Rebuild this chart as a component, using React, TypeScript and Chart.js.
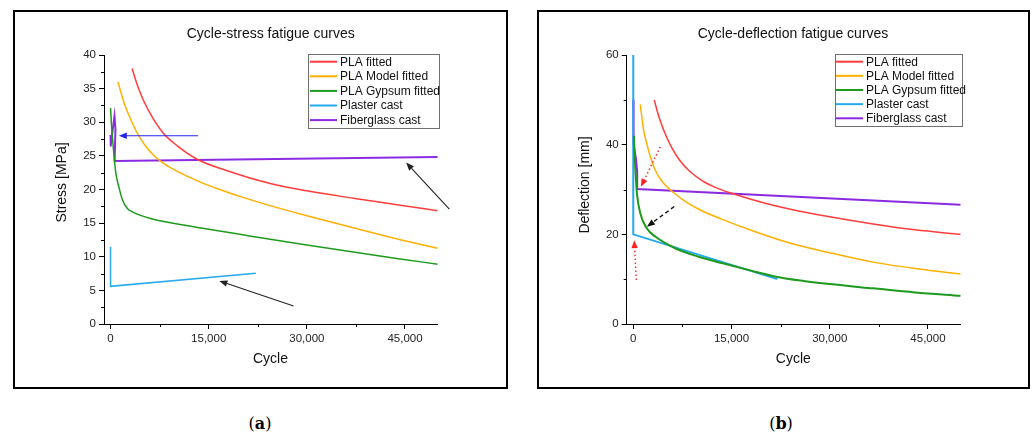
import React, { useEffect, useRef } from "react";
import { Chart, registerables } from "chart.js";

Chart.register(...registerables);

const FONT = "'Liberation Sans', Arial, sans-serif";

// ---------- shared ----------
const seriesNames = ["PLA fitted", "PLA Model fitted", "PLA Gypsum fitted", "Plaster cast", "Fiberglass cast"];
const seriesColors = ["#FF3D3D", "#FFB000", "#1E9A1E", "#25AAF0", "#8A2BE2"];

const cycleTicks = [0, 15000, 30000, 45000];
const cycleMinorTicks = [7500, 22500, 37500];

// ---------- (a) cycle-stress ----------
const stressTicks = [0, 5, 10, 15, 20, 25, 30, 35, 40];
const stressMinorTicks = [2.5, 7.5, 12.5, 17.5, 22.5, 27.5, 32.5, 37.5];

const stressPLA = [
  [3300, 38], [4000, 35.8], [5000, 33.3], [6600, 30.4], [8140, 28.3], [10200, 26.5], [13230, 24.5],
  [17800, 22.8], [24400, 20.9], [30000, 19.8], [37100, 18.7], [44000, 17.7], [50000, 16.85],
];
const stressPLAModel = [
  [1120, 36], [2100, 32.8], [3000, 30.6], [4300, 28], [5800, 25.9], [7530, 24.3], [10000, 22.8],
  [13730, 21.1], [17000, 19.9], [20000, 18.9], [24400, 17.6], [30000, 16.1], [37100, 14.3],
  [44000, 12.6], [50000, 11.25],
];
const stressPLAGypsum = [
  [0, 32.1], [150, 29.5], [350, 27], [500, 25.4], [800, 22.5], [1270, 20.4], [1800, 18.5],
  [2540, 17.2], [3500, 16.6], [4580, 16.15], [6100, 15.7], [10000, 14.9], [15000, 14.1],
  [20000, 13.3], [24400, 12.6], [30000, 11.75], [37100, 10.7], [44000, 9.7], [50000, 8.9],
];
const stressPlaster = [[0, 11.5], [0, 5.6], [22200, 7.55]];
const stressFiberglass = [
  [0, 28.1], [30, 26.4], [120, 27.3], [600, 30.9], [750, 29], [620, 24.25], [50000, 24.85],
];
const stressArrows = [
  { from: [13380, 28.0], to: [1270, 28.0], color: "#2424EE", dash: [] as number[] },
  { from: [51780, 17.1], to: [45170, 24.0], color: "#222222", dash: [] as number[] },
  { from: [27970, 2.68], to: [16630, 6.4], color: "#222222", dash: [] as number[] },
];

// ---------- (b) cycle-deflection ----------
const deflectionTicks = [0, 20, 40, 60];
const deflectionMinorTicks = [10, 30, 50];

const deflectionPLA = [
  [3200, 50], [3800, 46.8], [4400, 44.2], [5000, 42.0], [5900, 39.3], [7000, 36.7], [8450, 34.3],
  [10500, 32.0], [13000, 30.2], [15600, 28.9], [20000, 27.0], [24000, 25.6], [30000, 23.9],
  [36600, 22.3], [43000, 21.0], [50000, 20.0],
];
const deflectionPLAModel = [
  [1070, 49], [1580, 43.3], [2100, 40.0], [2590, 37.4], [3360, 34.3], [4500, 31.6], [5900, 29.6],
  [8000, 27.3], [10000, 25.6], [13500, 23.4], [18000, 20.9], [24000, 18.0], [30000, 15.9],
  [36600, 13.8], [45000, 12.0], [50000, 11.15],
];
const deflectionPLAGypsum = [
  [100, 42], [200, 38], [300, 35], [560, 29.2], [1070, 24.7], [2090, 21.3], [3360, 19.5],
  [6400, 16.9], [10000, 15], [13500, 13.6], [18000, 11.9], [22000, 10.5], [26000, 9.6],
  [30000, 8.9], [36600, 7.95], [43000, 7.05], [50000, 6.3],
];
const deflectionPlaster = [[0, 60], [0, 20], [22000, 10]];
const deflectionFiberglass = [[0, 50], [50, 40], [400, 37], [600, 34], [600, 30.1], [50000, 26.6]];
const deflectionArrows = [
  { from: [4120, 39.5], to: [1175, 30.6], color: "#FF2020", dash: [1.5, 2.5] },
  { from: [6260, 26.2], to: [2090, 21.7], color: "#111111", dash: [4, 3] },
  { from: [460, 9.8], to: [150, 18.7], color: "#FF2020", dash: [1.5, 2.5] },
];

type Pt = number[];

const decorPlugin = {
  id: "decor",
  afterDraw(chart: any, _a: any, o: any) {
    const ctx: CanvasRenderingContext2D = chart.ctx;
    const ca = chart.chartArea;
    const xs = chart.scales.x;
    const ys = chart.scales.y;
    ctx.save();
    // minor ticks
    ctx.strokeStyle = "#000";
    ctx.lineWidth = 1;
    o.xMinor.forEach((v: number) => {
      const px = Math.round(xs.getPixelForValue(v)) + 0.5;
      ctx.beginPath();
      ctx.moveTo(px, ca.bottom);
      ctx.lineTo(px, ca.bottom + 3);
      ctx.stroke();
    });
    o.yMinor.forEach((v: number) => {
      const py = Math.round(ys.getPixelForValue(v)) + 0.5;
      ctx.beginPath();
      ctx.moveTo(ca.left, py);
      ctx.lineTo(ca.left - 3, py);
      ctx.stroke();
    });
    // texts
    ctx.fillStyle = "#111";
    ctx.textAlign = "center";
    ctx.textBaseline = "middle";
    ctx.font = `14px ${FONT}`;
    ctx.fillText(o.title, o.titlePos[0], o.titlePos[1]);
    ctx.fillText(o.xTitle, o.xTitlePos[0], o.xTitlePos[1]);
    ctx.save();
    ctx.translate(o.yTitlePos[0], o.yTitlePos[1]);
    ctx.rotate(-Math.PI / 2);
    ctx.fillText(o.yTitle, 0, 0);
    ctx.restore();
    // legend
    const L = o.legend;
    ctx.fillStyle = "#fff";
    ctx.fillRect(L.box[0], L.box[1], L.box[2], L.box[3]);
    ctx.strokeStyle = "#707070";
    ctx.lineWidth = 1;
    ctx.strokeRect(L.box[0] + 0.5, L.box[1] + 0.5, L.box[2], L.box[3]);
    ctx.font = `12px ${FONT}`;
    ctx.textAlign = "left";
    seriesNames.forEach((name, i) => {
      const y = L.firstRow + i * L.rowGap;
      ctx.strokeStyle = seriesColors[i];
      ctx.lineWidth = 2;
      ctx.beginPath();
      ctx.moveTo(L.lineX[0], y);
      ctx.lineTo(L.lineX[1], y);
      ctx.stroke();
      ctx.fillStyle = "#111";
      ctx.fillText(name, L.textX, y + 0.5);
    });
    // arrows
    o.arrows.forEach((a: any) => {
      const x1 = xs.getPixelForValue(a.from[0]);
      const y1 = ys.getPixelForValue(a.from[1]);
      const x2 = xs.getPixelForValue(a.to[0]);
      const y2 = ys.getPixelForValue(a.to[1]);
      const ang = Math.atan2(y2 - y1, x2 - x1);
      const hl = 8;
      const hw = 3.2;
      const bx = x2 - hl * Math.cos(ang);
      const by = y2 - hl * Math.sin(ang);
      ctx.strokeStyle = a.color;
      ctx.fillStyle = a.color;
      ctx.lineWidth = a.dash.length ? 1.4 : 1.1;
      ctx.setLineDash(a.dash);
      ctx.beginPath();
      ctx.moveTo(x1, y1);
      ctx.lineTo(bx, by);
      ctx.stroke();
      ctx.setLineDash([]);
      ctx.beginPath();
      ctx.moveTo(x2, y2);
      ctx.lineTo(bx + hw * Math.sin(ang), by - hw * Math.cos(ang));
      ctx.lineTo(bx - hw * Math.sin(ang), by + hw * Math.cos(ang));
      ctx.closePath();
      ctx.fill();
    });
    ctx.restore();
  },
};

function toXY(pts: Pt[]) {
  return pts.map(([x, y]) => ({ x, y }));
}

type PanelCfg = {
  width: number;
  height: number;
  area: { left: number; right: number; top: number; bottom: number };
  yMax: number;
  yTicks: number[];
  yMinor: number[];
  series: Pt[][];
  arrows: any[];
  title: string;
  yTitle: string;
  titlePos: number[];
  xTitlePos: number[];
  yTitlePos: number[];
  legend: any;
  widths: number[];
};

function Panel({ cfg }: { cfg: PanelCfg }) {
  const ref = useRef<HTMLCanvasElement | null>(null);
  useEffect(() => {
    if (!ref.current) return;
    const curveIdx = [0, 1, 2];
    const chart = new Chart(ref.current, {
      type: "line",
      data: {
        datasets: cfg.series.map((pts, i) => ({
          label: seriesNames[i],
          data: toXY(pts),
          borderColor: seriesColors[i],
          backgroundColor: seriesColors[i],
          borderWidth: cfg.widths[i],
          pointRadius: 0,
          fill: false,
          tension: 0,
          cubicInterpolationMode: curveIdx.includes(i) ? "monotone" : "default",
        })) as any,
      },
      options: {
        animation: false,
        responsive: false,
        maintainAspectRatio: false,
        layout: {
          padding: {
            left: 0,
            top: cfg.area.top,
            right: cfg.width - cfg.area.right,
            bottom: 0,
          },
        },
        plugins: {
          legend: { display: false },
          title: { display: false },
          tooltip: { enabled: false },
          decor: {
            xMinor: cycleMinorTicks,
            yMinor: cfg.yMinor,
            title: cfg.title,
            titlePos: cfg.titlePos,
            xTitle: "Cycle",
            xTitlePos: cfg.xTitlePos,
            yTitle: cfg.yTitle,
            yTitlePos: cfg.yTitlePos,
            legend: cfg.legend,
            arrows: cfg.arrows,
          },
        } as any,
        scales: {
          x: {
            type: "linear",
            min: -1000,
            max: 50000,
            afterBuildTicks: (s: any) => {
              s.ticks = cycleTicks.map((v) => ({ value: v }));
            },
            afterFit: (s: any) => {
              s.height = cfg.height - cfg.area.bottom;
            },
            grid: { drawOnChartArea: false, drawTicks: true, tickLength: 5, color: "#000", tickColor: "#000" },
            border: { display: true, color: "#000", width: 1 },
            ticks: {
              color: "#222",
              padding: 3,
              maxRotation: 0,
              autoSkip: false,
              font: { family: FONT, size: 11.5 },
              callback: (v: any) => Number(v).toLocaleString("en-US"),
            },
          },
          y: {
            type: "linear",
            min: 0,
            max: cfg.yMax,
            afterBuildTicks: (s: any) => {
              s.ticks = cfg.yTicks.map((v) => ({ value: v }));
            },
            afterFit: (s: any) => {
              s.width = cfg.area.left;
            },
            grid: { drawOnChartArea: false, drawTicks: true, tickLength: 5, color: "#000", tickColor: "#000" },
            border: { display: true, color: "#000", width: 1 },
            ticks: {
              color: "#222",
              padding: 3,
              autoSkip: false,
              font: { family: FONT, size: 11.5 },
              callback: (v: any) => String(v),
            },
          },
        },
      },
      plugins: [decorPlugin as any],
    });
    return () => chart.destroy();
  }, [cfg]);
  return <canvas ref={ref} width={cfg.width} height={cfg.height} style={{ display: "block" }} />;
}

const panelA: PanelCfg = {
  width: 491,
  height: 375,
  area: { left: 89, right: 422.7, top: 43, bottom: 312 },
  yMax: 40,
  yTicks: stressTicks,
  yMinor: stressMinorTicks,
  series: [stressPLA, stressPLAModel, stressPLAGypsum, stressPlaster, stressFiberglass],
  arrows: stressArrows,
  title: "Cycle-stress fatigue curves",
  yTitle: "Stress [MPa]",
  titlePos: [255.7, 22.5],
  xTitlePos: [255.5, 347],
  yTitlePos: [47, 170.5],
  legend: { box: [293, 42, 131, 74], lineX: [295, 322], textX: 325, firstRow: 49.7, rowGap: 14.6 },
  widths: [1.5, 1.5, 1.5, 1.5, 2],
};

const panelB: PanelCfg = {
  width: 489,
  height: 375,
  area: { left: 87.7, right: 421.7, top: 43, bottom: 312 },
  yMax: 60,
  yTicks: deflectionTicks,
  yMinor: deflectionMinorTicks,
  series: [deflectionPLA, deflectionPLAModel, deflectionPLAGypsum, deflectionPlaster, deflectionFiberglass],
  arrows: deflectionArrows,
  title: "Cycle-deflection fatigue curves",
  yTitle: "Deflection [mm]",
  titlePos: [254, 22.5],
  xTitlePos: [254.3, 347.3],
  yTitlePos: [46, 173],
  legend: { box: [296, 42, 127, 72], lineX: [297, 324], textX: 327, firstRow: 49.7, rowGap: 14.15 },
  widths: [1.5, 1.5, 2, 2, 2],
};

const boxStyle = (left: number, width: number): React.CSSProperties => ({
  position: "absolute",
  left,
  top: 10,
  width,
  height: 379,
  boxSizing: "border-box",
  border: "2px solid #000",
  background: "#fff",
});

const labelStyle = (cx: number): React.CSSProperties => ({
  position: "absolute",
  left: cx - 40,
  width: 80,
  top: 414,
  textAlign: "center",
  fontFamily: "'DejaVu Serif', 'Liberation Serif', serif",
  fontSize: 16,
  lineHeight: "20px",
  color: "#000",
});

export default function App() {
  return (
    <div style={{ position: "fixed", left: 0, top: 0, width: 1032, height: 437, background: "#fff", overflow: "hidden" }}>
      <div style={boxStyle(13, 495)}>
        <Panel cfg={panelA} />
      </div>
      <div style={boxStyle(537, 493)}>
        <Panel cfg={panelB} />
      </div>
      <div style={labelStyle(260)}>
        (<b>a</b>)
      </div>
      <div style={labelStyle(781)}>
        (<b>b</b>)
      </div>
    </div>
  );
}
